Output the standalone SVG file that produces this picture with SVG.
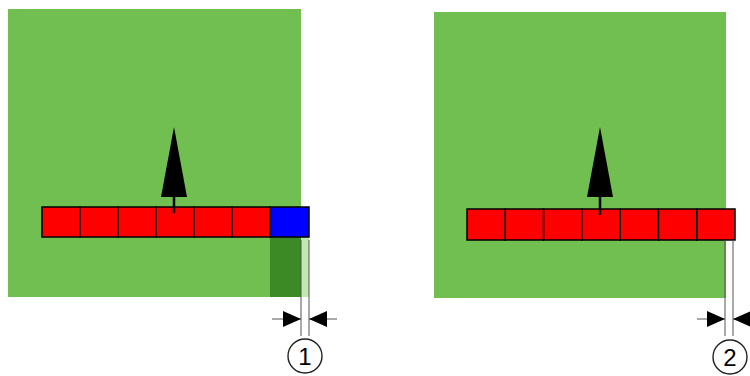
<svg xmlns="http://www.w3.org/2000/svg" width="750" height="376" viewBox="0 0 750 376">
<style>
.field{fill:#70bf50}
.cell{fill:#ff0000;stroke:#000;stroke-width:1.5}
.dim{stroke:#555;stroke-width:1;fill:none}
.ah{fill:#000}
.lbl{font-family:"Liberation Sans",Arial,sans-serif;font-size:24px;fill:#000;text-anchor:middle}
</style>
<rect width="750" height="376" fill="#fff"/>
<g id="field-left">
<rect class="field" x="8" y="9" width="293" height="288"/>
<rect x="301" y="237" width="8" height="60" fill="#c4e6b5"/>
<rect x="270" y="237" width="31" height="60" fill="#3c8a25"/>
</g>
<g id="field-right">
<rect class="field" x="434" y="12" width="292" height="286"/>
</g>
<g id="boom-left">
<rect class="cell" x="42" y="207" width="38" height="30"/>
<rect class="cell" x="80" y="207" width="38" height="30"/>
<rect class="cell" x="118" y="207" width="38" height="30"/>
<rect class="cell" x="156" y="207" width="38" height="30"/>
<rect class="cell" x="194" y="207" width="38" height="30"/>
<rect class="cell" x="232" y="207" width="38" height="30"/>
<rect x="270" y="207" width="39" height="30" fill="#0000ff" stroke="#000" stroke-width="1.5"/>
</g>
<g id="boom-right">
<rect class="cell" x="467" y="209" width="38.3" height="31"/>
<rect class="cell" x="505.3" y="209" width="38.3" height="31"/>
<rect class="cell" x="543.6" y="209" width="38.3" height="31"/>
<rect class="cell" x="581.9" y="209" width="38.3" height="31"/>
<rect class="cell" x="620.2" y="209" width="38.3" height="31"/>
<rect class="cell" x="658.5" y="209" width="38.3" height="31"/>
<rect class="cell" x="696.8" y="209" width="38.2" height="31"/>
</g>
<g id="arrow-left">
<line x1="174" y1="150" x2="174" y2="213" stroke="#000" stroke-width="2.5"/>
<polygon class="ah" points="174,127 187,197 161,197"/>
</g>
<g id="arrow-right">
<line x1="600" y1="150" x2="600" y2="215" stroke="#000" stroke-width="2.5"/>
<polygon class="ah" points="600,127 613,197 587,197"/>
</g>
<g id="connectors">
<line class="dim" x1="301" y1="240" x2="301" y2="336"/>
<line class="dim" x1="309" y1="240" x2="309" y2="336"/>
<line class="dim" x1="272" y1="319" x2="301" y2="319"/>
<polygon class="ah" points="301,319 283,311 283,327"/>
<line class="dim" x1="309" y1="319" x2="337" y2="319"/>
<polygon class="ah" points="309,319 327,311 327,327"/>
<line class="dim" x1="725" y1="240" x2="725" y2="336"/>
<line class="dim" x1="733" y1="240" x2="733" y2="336"/>
<line class="dim" x1="697" y1="319" x2="725" y2="319"/>
<polygon class="ah" points="725,319 707,311 707,327"/>
<line class="dim" x1="733" y1="319" x2="750" y2="319"/>
<polygon class="ah" points="733,319 751,311 751,327"/>
</g>
<g id="label-1">
<circle cx="305" cy="356" r="17" fill="#fff" stroke="#222" stroke-width="1.4"/>
<text class="lbl" x="305" y="365">1</text>
</g>
<g id="label-2">
<circle cx="730" cy="357" r="17" fill="#fff" stroke="#222" stroke-width="1.4"/>
<text class="lbl" x="730" y="366">2</text>
</g>
</svg>
